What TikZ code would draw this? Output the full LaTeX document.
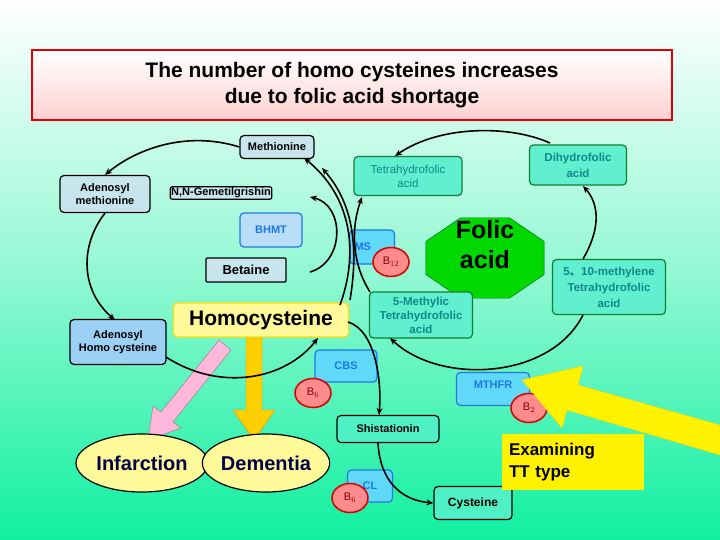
\documentclass[tikz,border=0pt]{standalone}
\usepackage{fontspec}
\setmainfont{Liberation Sans}
\newfontfamily\cjk{Noto Sans CJK SC}
\usetikzlibrary{shapes.geometric,arrows.meta}
\definecolor{bgG}{HTML}{10F0A0}
\definecolor{boxA}{HTML}{C8E4EC}
\definecolor{boxB}{HTML}{9CD0F4}
\definecolor{bluB}{HTML}{1E78E6}
\definecolor{fillB}{HTML}{60D8F8}
\definecolor{aqua}{HTML}{60F0D0}
\definecolor{grnB}{HTML}{108030}
\definecolor{teal}{HTML}{108888}
\begin{document}
\begin{tikzpicture}[x=1pt,y=-1pt,
 base/.style={draw,rounded corners=4pt,line width=1.2pt,align=center,font=\bfseries,inner sep=2pt},
 grey/.style={base,fill=boxA,font=\bfseries\fontsize{11}{13}\selectfont},
 enz/.style={base,draw=bluB,fill=fillB,text=bluB,font=\bfseries\fontsize{11}{13}\selectfont},
 fol/.style={base,draw=grnB,fill=aqua,text=teal,font=\fontsize{11.5}{14}\selectfont},
 vit/.style={ellipse,draw=red!85!black,fill=red!45!white,line width=1.5pt,minimum width=36pt,minimum height=29pt,inner sep=0pt,text=red!50!black,font=\fontsize{11}{12}\selectfont},
 arr/.style={line width=1.6pt,-{Stealth[length=7pt,width=6pt]}},
 ln/.style={line width=1.6pt}]
\shade[top color=white,bottom color=bgG,middle color=bgG!45!white] (0,0) rectangle (720,540);
\useasboundingbox (0,0) rectangle (720,540);
% title
\node[draw=red!90!black,line width=1.5pt,top color=white,bottom color=pink!80!red!45,minimum width=640pt,minimum height=70pt,align=center,font=\bfseries\fontsize{21}{26}\selectfont] (title) at (352,85) {The number of homo cysteines increases\\due to folic acid shortage};
% left cycle nodes
\node[grey,minimum width=74pt,minimum height=23pt] (met) at (277,147) {Methionine};
\node[grey,minimum width=90pt,minimum height=37pt] (ame) at (105,194) {Adenosyl\\methionine};
\node[grey,rounded corners=2pt,inner sep=1pt] (nng) at (221,193) {N,N-Gemetilgrishin};
\node[enz,fill=boxB!70!white,minimum width=62pt,minimum height=34pt] (bhmt) at (271,230) {BHMT};
\node[grey,rounded corners=1pt,font=\bfseries\fontsize{13}{15}\selectfont,minimum width=80pt,minimum height=24pt] (bet) at (246,270) {Betaine};
\node[base,draw=yellow!80!orange,fill=yellow!40!white,font=\bfseries\fontsize{21}{24}\selectfont,minimum width=175pt,minimum height=34pt] (hcy) at (261,320) {Homocysteine};
\node[grey,fill=boxB,minimum width=96pt,minimum height=45pt] (ahc) at (118,342) {Adenosyl\\Homo cysteine};
% folate
\node[fol,minimum width=108pt,minimum height=39pt] (thf) at (408,176) {Tetrahydrofolic\\acid};
\node[fol,font=\bfseries\fontsize{11.5}{16}\selectfont,minimum width=97pt,minimum height=40pt] (dhf) at (578,165) {Dihydrofolic\\acid};
\node[regular polygon,regular polygon sides=8,draw=grnB!70!black,fill=green!85!black,minimum size=128pt,yscale=0.68,inner sep=0pt] (fa) at (485,258) {};
\node[font=\bfseries\fontsize{25}{30}\selectfont,align=center] (fat) at (485,245) {Folic\\acid};
\node[enz,minimum width=45pt,minimum height=34pt,text width=35pt,align=left] (ms) at (372,247) {MS};
\node[vit] (b12) at (391,262) {B$_{12}$};
\node[fol,font=\bfseries\fontsize{11.5}{14}\selectfont,minimum width=103pt,minimum height=46pt,inner sep=0pt] (mthf) at (421,315) {5-Methylic\\Tetrahydrofolic\\acid};
\node[fol,font=\bfseries\fontsize{11.5}{16}\selectfont,minimum width=113pt,minimum height=55pt,inner sep=0pt] (mlthf) at (609,287) {5{\cjk 、}10-methylene\\Tetrahydrofolic\\acid};
% lower
\node[enz,minimum width=62pt,minimum height=32pt] (cbs) at (346,366) {CBS};
\node[vit] (b6a) at (313,393) {B$_6$};
\node[enz,minimum width=73pt,minimum height=33pt,text depth=8pt] (mthfr) at (493,389) {MTHFR};
\node[vit] (b2) at (529,408) {B$_2$};
\node[base,draw=black,fill=aqua!80!bgG,font=\bfseries\fontsize{11}{13}\selectfont,minimum width=102pt,minimum height=27pt] (shi) at (388,429) {Shistationin};
\node[enz,minimum width=45pt,minimum height=32pt] (cl) at (370,486) {CL};
\node[vit] (b6b) at (350,498) {B$_6$};
\node[base,draw=black,fill=aqua!80!bgG,font=\bfseries\fontsize{12}{14}\selectfont,minimum width=78pt,minimum height=33pt] (cys) at (473,503) {Cysteine};
% big arrows
\fill[pink!80!magenta!70,draw=pink!60!black] (231,350) -- (173,422) -- (181,428) -- (148,440) -- (153,406) -- (161,412) -- (219,340) -- cycle;
\fill[orange!30!yellow!90!orange,draw=orange] (246,338) -- (262,338) -- (262,410) -- (275,410) -- (254,440) -- (233,410) -- (246,410) -- cycle;
\node[ellipse,draw,line width=1.2pt,fill=yellow!40!white,minimum width=132pt,minimum height=58pt,font=\bfseries\fontsize{20}{24}\selectfont,text=blue!30!black,inner sep=0pt] (inf) at (142,463) {Infarction};
\node[ellipse,draw,line width=1.2pt,fill=yellow!40!white,minimum width=122pt,minimum height=58pt,font=\bfseries\fontsize{20}{24}\selectfont,text=blue!30!black,inner sep=0pt] (dem) at (266,463) {Dementia};
\fill[yellow,draw=yellow!70!orange] (720,425) -- (578,385) -- (583,366) -- (522,380) -- (562,428) -- (567,410) -- (720,455) -- cycle;
\node[fill=yellow,minimum width=142pt,minimum height=56pt,text width=128pt,align=left,font=\bfseries\fontsize{17}{22}\selectfont,inner sep=3pt] (tt) at (573,462) {Examining\\TT type};
% left cycle arcs
\draw[arr] (met.west) .. controls (185,130) and (135,150) .. (ame.north);
\draw[arr] (ame.south) .. controls (80,245) and (80,290) .. (115,320);
\draw[arr] (166,357) .. controls (220,392) and (285,380) .. (318,338);
\draw[arr] (340,305) .. controls (360,250) and (350,195) .. (304,158);
\draw[arr] (350,300) .. controls (360,240) and (350,200) .. (322,168);
\draw[arr] (310,272) .. controls (345,262) and (345,205) .. (310,197);
% folate arcs
\draw[arr] (550,143) .. controls (510,125) and (440,125) .. (395,156);
\draw[arr] (370,292) .. controls (350,260) and (352,225) .. (362,197);
\draw[arr] (583,259) .. controls (600,230) and (600,205) .. (583,186);
\draw[arr] (583,315) .. controls (550,380) and (440,385) .. (390,338);
% transsulfuration
\draw[arr] (348,322) .. controls (375,330) and (382,380) .. (379,415);
\draw[arr] (378,443) .. controls (380,480) and (400,500) .. (cys.west);
\end{tikzpicture}
\end{document}
